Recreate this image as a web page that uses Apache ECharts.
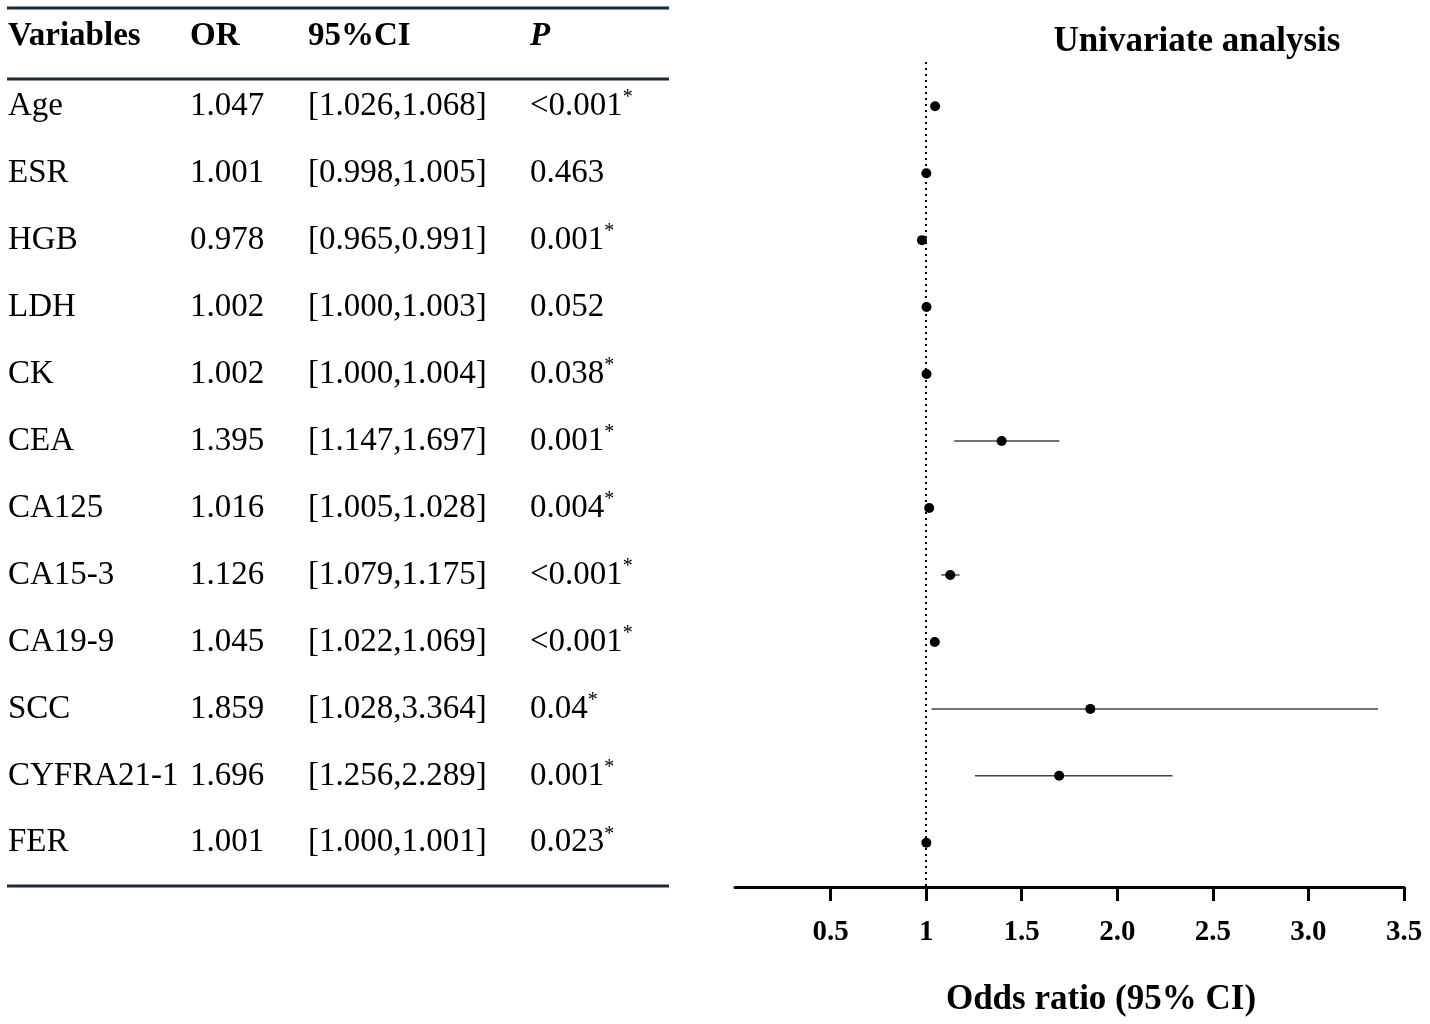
<!DOCTYPE html>
<html>
<head>
<meta charset="utf-8">
<title>Univariate analysis</title>
<script src="https://cdn.jsdelivr.net/npm/echarts@6/dist/echarts.min.js"></script>
<style>
  html, body { margin: 0; padding: 0; background: #fff; }
  #main { width: 1430px; height: 1024px; }
</style>
</head>
<body>
<div id="main"></div>
<script>
// 数据
var variables = ['Age', 'ESR', 'HGB', 'LDH', 'CK', 'CEA', 'CA125', 'CA15-3', 'CA19-9', 'SCC', 'CYFRA21-1', 'FER'];
var orValues = [1.047, 1.001, 0.978, 1.002, 1.002, 1.395, 1.016, 1.126, 1.045, 1.859, 1.696, 1.001];
var ciLower = [1.026, 0.998, 0.965, 1.000, 1.000, 1.147, 1.005, 1.079, 1.022, 1.028, 1.256, 1.000];
var ciUpper = [1.068, 1.005, 0.991, 1.003, 1.004, 1.697, 1.028, 1.175, 1.069, 3.364, 2.289, 1.001];
var pValues = ['<0.001', '0.463', '0.001', '0.052', '0.038', '0.001', '0.004', '<0.001', '<0.001', '0.04', '0.001', '0.023'];
var pSig = [true, false, true, false, true, true, true, true, true, true, true, true];
var tableHeaders = ['Variables', 'OR', '95%CI', 'P'];
var xTicks = [0.5, 1, 1.5, 2, 2.5, 3, 3.5];

var serif = "'Liberation Serif', 'Times New Roman', serif";
var lineColor = '#1e2b38';

var myChart = echarts.init(document.getElementById('main'));

var pointData = [];
var barData = [];
for (var i = 0; i < variables.length; i++) {
    pointData.push([orValues[i], i + 1]);
    barData.push([ciLower[i], ciUpper[i], i + 1]);
}

var option = {
    animation: false,
    backgroundColor: '#fff',
    title: {
        text: 'Univariate analysis',
        left: 1192,
        top: 19,
        textAlign: 'center',
        textStyle: { fontFamily: serif, fontWeight: 'bold', fontSize: 35, color: '#000' }
    },
    grid: { left: 735, right: 26, top: 62, bottom: 137 },
    xAxis: {
        type: 'value',
        min: 0,
        max: 3.5,
        interval: 0.5,
        splitLine: { show: false },
        axisLine: { lineStyle: { color: '#000', width: 3 } },
        axisTick: {
            length: 14,
            customValues: xTicks,
            lineStyle: { color: '#000', width: 3 }
        },
        axisLabel: {
            customValues: xTicks,
            margin: 31,
            fontFamily: serif,
            fontWeight: 'bold',
            fontSize: 29,
            color: '#000',
            formatter: function (v) { return v === 1 ? '1' : v.toFixed(1); }
        }
    },
    yAxis: {
        type: 'value',
        inverse: true,
        min: 0.34,
        max: 12.66,
        show: false
    },
    series: [
        {
            type: 'custom',
            name: 'CI',
            data: barData,
            renderItem: function (params, api) {
                var p1 = api.coord([api.value(0), api.value(2)]);
                var p2 = api.coord([api.value(1), api.value(2)]);
                return {
                    type: 'line',
                    shape: { x1: p1[0], y1: p1[1], x2: p2[0], y2: p2[1] },
                    style: { stroke: '#444', lineWidth: 1.5 }
                };
            },
            z: 2
        },
        {
            type: 'scatter',
            name: 'OR',
            data: pointData,
            symbolSize: 10,
            itemStyle: { color: '#000', opacity: 1 },
            z: 3,
            markLine: {
                silent: true,
                symbol: 'none',
                label: { show: false },
                lineStyle: { color: '#000', type: [2, 4], width: 2 },
                data: [{ xAxis: 1 }]
            }
        }
    ]
};
myChart.setOption(option);

// 左侧表格
var colX = [8, 190, 308, 530];
var graphics = [];
function hline(y) {
    graphics.push({
        type: 'line',
        shape: { x1: 7, y1: y, x2: 669, y2: y },
        style: { stroke: lineColor, lineWidth: 3 }
    });
}
hline(8);
hline(79);
hline(886);

for (var h = 0; h < tableHeaders.length; h++) {
    graphics.push({
        type: 'text',
        style: {
            text: tableHeaders[h],
            x: colX[h],
            y: 36,
            verticalAlign: 'middle',
            fontFamily: serif,
            fontWeight: 'bold',
            fontStyle: h === 3 ? 'italic' : 'normal',
            fontSize: 33,
            fill: '#000'
        }
    });
}

for (var r = 0; r < variables.length; r++) {
    var rowY = myChart.convertToPixel({ gridIndex: 0 }, [0, r + 1])[1];
    var cells = [
        variables[r],
        orValues[r].toFixed(3),
        '[' + ciLower[r].toFixed(3) + ',' + ciUpper[r].toFixed(3) + ']'
    ];
    for (var c = 0; c < cells.length; c++) {
        graphics.push({
            type: 'text',
            style: {
                text: cells[c],
                x: colX[c],
                y: rowY,
                verticalAlign: 'middle',
                fontFamily: serif,
                fontSize: 33,
                fill: '#000'
            }
        });
    }
    graphics.push({
        type: 'text',
        style: {
            text: '{n|' + pValues[r] + '}' + (pSig[r] ? '{s|*}' : ''),
            x: colX[3],
            y: rowY,
            verticalAlign: 'middle',
            fontFamily: serif,
            fontSize: 33,
            fill: '#000',
            rich: {
                n: { fontFamily: serif, fontSize: 33, color: '#000', lineHeight: 36 },
                s: { fontFamily: serif, fontSize: 20, color: '#000', verticalAlign: 'top', lineHeight: 32 }
            }
        }
    });
}

// 横轴标题
graphics.push({
    type: 'text',
    style: {
        text: 'Odds ratio (95% CI)',
        x: 1101,
        y: 1000,
        align: 'center',
        verticalAlign: 'middle',
        fontFamily: serif,
        fontWeight: 'bold',
        fontSize: 35,
        fill: '#000'
    }
});

myChart.setOption({ graphic: graphics });
</script>
</body>
</html>
